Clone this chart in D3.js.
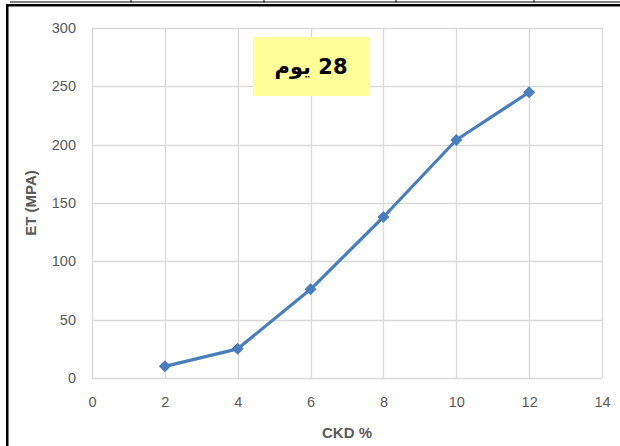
<!DOCTYPE html>
<html>
<head>
<meta charset="utf-8">
<script src="https://cdn.jsdelivr.net/npm/d3@7"></script>
<style>
  html, body { margin: 0; padding: 0; background: #fff; }
  svg { display: block; }
</style>
</head>
<body>
<svg id="chart" width="620" height="446"></svg>
<script>
// CKD content (%) vs ET (MPa) after 28 days
const ckd = [2, 4, 6, 8, 10, 12];
const et = [10, 25, 76, 138, 204, 245];
const xTicks = [0, 2, 4, 6, 8, 10, 12, 14];
const yTicks = [0, 50, 100, 150, 200, 250, 300];
const titleText = "28 يوم";
const xTitle = "CKD %";
const yTitle = "ET (MPA)";

const svg = d3.select("#chart");
const W = 620, H = 446;
const plot = { left: 92, right: 602, top: 28, bottom: 378 };

const x = d3.scaleLinear().domain([0, 14]).range([plot.left, plot.right]);
const y = d3.scaleLinear().domain([0, 300]).range([plot.bottom, plot.top]);

// page frame: table rule above and the chart box border
const frame = svg.append("g");
frame.append("line").attr("x1", 10).attr("x2", W).attr("y1", 2).attr("y2", 2)
  .attr("stroke", "#000").attr("stroke-width", 1);
[131, 264, 396, 534].forEach(px => {
  frame.append("line").attr("x1", px).attr("x2", px).attr("y1", 0).attr("y2", 2.5)
    .attr("stroke", "#000").attr("stroke-width", 1);
});
frame.append("rect").attr("x", 6).attr("y", 4).attr("width", W - 6).attr("height", 2.5)
  .attr("fill", "#000");
frame.append("rect").attr("x", 6).attr("y", 4).attr("width", 2.5).attr("height", H - 4)
  .attr("fill", "#000");

// grid
const grid = svg.append("g");
grid.selectAll("line.h").data(yTicks).join("line")
  .attr("x1", plot.left).attr("x2", plot.right)
  .attr("y1", d => Math.round(y(d)) + 0.5).attr("y2", d => Math.round(y(d)) + 0.5)
  .attr("stroke", "#d9d9d9").attr("stroke-width", 1.3);
grid.selectAll("line.v").data(xTicks).join("line")
  .attr("y1", plot.top).attr("y2", plot.bottom)
  .attr("x1", d => Math.round(x(d)) + 0.5).attr("x2", d => Math.round(x(d)) + 0.5)
  .attr("stroke", "#d9d9d9").attr("stroke-width", 1.3);

// axes (labels only)
const font = "'Liberation Sans', Arial, sans-serif";
const xAxis = svg.append("g").attr("transform", `translate(0,${plot.bottom + 9})`)
  .call(d3.axisBottom(x).tickValues(xTicks).tickSize(0).tickPadding(10));
const yAxis = svg.append("g").attr("transform", `translate(${plot.left - 16},0)`)
  .call(d3.axisLeft(y).tickValues(yTicks).tickSize(0).tickPadding(0));
[xAxis, yAxis].forEach(a => {
  a.select(".domain").remove();
  a.selectAll("text").attr("fill", "#595959").style("font-family", font).style("font-size", "14.5px");
});

// axis titles
svg.append("text").attr("x", x(7)).attr("y", 438)
  .attr("text-anchor", "middle").attr("fill", "#595959")
  .style("font-family", font).style("font-size", "15px").style("font-weight", "bold")
  .text(xTitle);
svg.append("text").attr("transform", `translate(36,${y(150)}) rotate(-90)`)
  .attr("text-anchor", "middle").attr("fill", "#595959")
  .style("font-family", font).style("font-size", "15px").style("font-weight", "bold")
  .text(yTitle);

// series line
const line = d3.line().x((d, i) => x(ckd[i])).y(d => y(d)).curve(d3.curveLinear);
svg.append("path").datum(et).attr("d", line)
  .attr("fill", "none").attr("stroke", "#4a7ebb").attr("stroke-width", 3.2)
  .attr("stroke-linejoin", "round");

// diamond markers
const diamond = d3.symbol().type(d3.symbolSquare).size(72);
svg.selectAll("path.mk").data(et).join("path")
  .attr("d", diamond)
  .attr("transform", (d, i) => `translate(${x(ckd[i])},${y(d)}) rotate(45)`)
  .attr("fill", "#4a7ebb");

// title box
const tb = svg.append("g");
tb.append("rect").attr("x", 253).attr("y", 37).attr("width", 117).attr("height", 59)
  .attr("fill", "#ffff99");
tb.append("text").attr("x", 311).attr("y", 74)
  .attr("text-anchor", "middle").attr("direction", "rtl")
  .attr("fill", "#000").style("font-family", "'DejaVu Sans', 'Liberation Sans', sans-serif")
  .style("font-size", "21px").style("font-weight", "bold")
  .text(titleText);
</script>
</body>
</html>
